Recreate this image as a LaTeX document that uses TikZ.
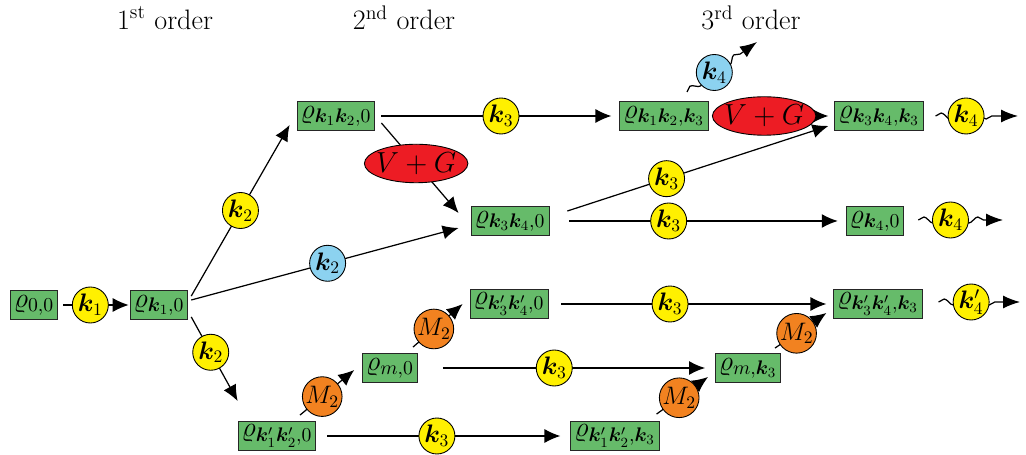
\RequirePackage{fix-cm}
\documentclass[tikz,border=0pt]{standalone}
\usepackage{amsmath,bm}
\usetikzlibrary{arrows.meta,calc,decorations.pathmorphing,shapes.geometric}
\definecolor{boxgreen}{RGB}{102,187,106}
\definecolor{kyellow}{RGB}{255,240,0}
\definecolor{kblue}{RGB}{140,210,240}
\definecolor{korange}{RGB}{242,130,32}
\definecolor{vgred}{RGB}{237,28,36}
\begin{document}
\begin{tikzpicture}[x=0.02cm,y=-0.02cm,
  every node/.style={font=\fontsize{14.4}{17}\selectfont},
  rbox/.style={draw=black!85, line width=0.5pt, fill=boxgreen, rectangle, minimum height=0.58cm, inner xsep=2pt, inner ysep=0pt, font=\fontsize{16}{19}\selectfont},
  kcirc/.style={draw, circle, line width=0.5pt, minimum size=0.72cm, inner sep=0pt},
  yc/.style={kcirc, fill=kyellow},
  bc/.style={kcirc, fill=kblue},
  oc/.style={kcirc, fill=korange},
  vg/.style={draw, ellipse, line width=0.5pt, fill=vgred, minimum width=1.92cm, minimum height=0.77cm, inner xsep=-2pt, inner ysep=0pt, font=\fontsize{16.5}{19}\selectfont},
  arr/.style={line width=0.7pt, -{Latex[length=3.2mm,width=2.8mm]}},
  wavy/.style={line width=0.7pt, -{Latex[length=3.4mm,width=2.6mm]}, decorate, decoration={snake, amplitude=0.6mm, segment length=3.6mm, post length=3.6mm}},
  lbl/.style={font=\fontsize{16}{19}\selectfont}
]
\useasboundingbox (0,0) rectangle (1026,455);

\node[lbl] (o1) at (165,18) {1\textsuperscript{st} order};
\node[lbl] (o2) at (404,18) {2\textsuperscript{nd} order};
\node[lbl] (o3) at (751,18) {3\textsuperscript{rd} order};

\node[rbox] (r00) at (34,305) {$\varrho_{0,0}$};
\node[rbox] (rk1) at (159,305) {$\varrho_{\bm{k}_1,0}$};
\node[rbox] (rkk0) at (336,116) {$\varrho_{\bm{k}_1\bm{k}_2,0}$};
\node[rbox] (rkkk) at (664,116) {$\varrho_{\bm{k}_1\bm{k}_2,\bm{k}_3}$};
\node[rbox] (rttk) at (879,116) {$\varrho_{\bm{k}_3\bm{k}_4,\bm{k}_3}$};
\node[rbox] (rtt0) at (510,221) {$\varrho_{\bm{k}_3\bm{k}_4,0}$};
\node[rbox] (rf0) at (875,221) {$\varrho_{\bm{k}_4,0}$};
\node[rbox] (rpp0) at (509,304) {$\varrho_{\bm{k}'_3\bm{k}'_4,0}$};
\node[rbox] (rppk) at (878,304) {$\varrho_{\bm{k}'_3\bm{k}'_4,\bm{k}_3}$};
\node[rbox] (rm0) at (390,368) {$\varrho_{m,0}$};
\node[rbox] (rmk) at (748,368) {$\varrho_{m,\bm{k}_3}$};
\node[rbox] (rqq0) at (277,436) {$\varrho_{\bm{k}'_1\bm{k}'_2,0}$};
\node[rbox] (rqqk) at (615,436) {$\varrho_{\bm{k}'_1\bm{k}'_2,\bm{k}_3}$};

\draw[arr, shorten <=1mm, shorten >=0.2mm] (r00) -- node[yc,pos=0.45] (ka) {$\bm{k}_1$} (rk1);
\draw[arr] ($(rk1.north east)+(3,6)$) -- node[yc,pos=0.5] (kb) {$\bm{k}_2$} ($(rkk0.south west)+(-7,-6)$);
\draw[arr] ($(rk1.east)+(3,-5)$) -- node[bc,pos=0.51] (kc) {$\bm{k}_2$} ($(rtt0.west)+(-12,7)$);
\draw[arr] ($(rk1.south east)+(3,-3)$) -- node[yc,pos=0.42] (kd) {$\bm{k}_2$} ($(rqq0.north west)+(0,-20)$);
\draw[arr] ($(rkk0.south east)+(6,-8)$) -- node[vg,pos=0.45] (vg1) {$V+G$} ($(rtt0.north west)+(-12,7)$);
\draw[arr] ($(rkk0.east)+(6,0)$) -- node[yc,pos=0.52] (ke) {$\bm{k}_3$} ($(rkkk.west)+(-8,0)$);
\draw[arr] ($(rkkk.east)+(3,0)$) -- node[vg,pos=0.45] (vg2) {$V+G$} ($(rttk.west)+(-6,0)$);
\draw[arr] ($(rtt0.east)+(18,-10)$) -- node[yc,pos=0.38] (kf) {$\bm{k}_3$} ($(rttk.south west)+(-6,-5)$);
\draw[arr] ($(rtt0.east)+(20,0)$) -- node[yc,pos=0.37] (kg) {$\bm{k}_3$} ($(rf0.west)+(-8,0)$);
\draw[arr] ($(rpp0.east)+(13,0)$) -- node[yc,pos=0.41] (kh) {$\bm{k}_3$} ($(rppk.west)+(-7,0)$);
\draw[arr] ($(rm0.east)+(25,0)$) -- node[yc,pos=0.425] (ki) {$\bm{k}_3$} ($(rmk.west)+(-10,0)$);
\draw[arr] ($(rqq0.east)+(11,0)$) -- node[yc,pos=0.47] (kj) {$\bm{k}_3$} ($(rqqk.west)+(-10,0)$);
\draw[arr] ($(rqq0.north)+(23,-6)$) -- node[oc,pos=0.41] (ma) {$M_2$} ($(rm0.west)+(-8,2)$);
\draw[arr] ($(rm0.north)+(23,-6)$) -- node[oc,pos=0.42] (mb) {$M_2$} ($(rpp0.west)+(-7,0)$);
\draw[arr] ($(rqqk.north east)+(-3,-7)$) -- node[oc,pos=0.44] (mc) {$M_2$} ($(rmk.west)+(-7,9)$);
\draw[arr] ($(rmk.north east)+(-6,-5)$) -- node[oc,pos=0.42] (md) {$M_2$} ($(rppk.south west)+(-7,-6)$);

\coordinate (outa) at (1018,116);
\draw[wavy] ($(rttk.east)+(12,0)$) -- node[yc,pos=0.37] (kk) {$\bm{k}_4$} (outa);
\coordinate (outb) at (1003,220);
\draw[wavy] ($(rf0.east)+(14,-1)$) -- node[yc,pos=0.38] (kl) {$\bm{k}_4$} (outb);
\coordinate (outc) at (1020,302);
\draw[wavy] ($(rppk.east)+(16,-2)$) -- node[yc,pos=0.4] (km) {$\bm{k}'_4$} (outc);
\coordinate (ina) at (687,92);
\coordinate (outd) at (757,42);
\draw[wavy] (ina) -- node[bc,pos=0.39] (kn) {$\bm{k}_4$} (outd);
\end{tikzpicture}
\end{document}
